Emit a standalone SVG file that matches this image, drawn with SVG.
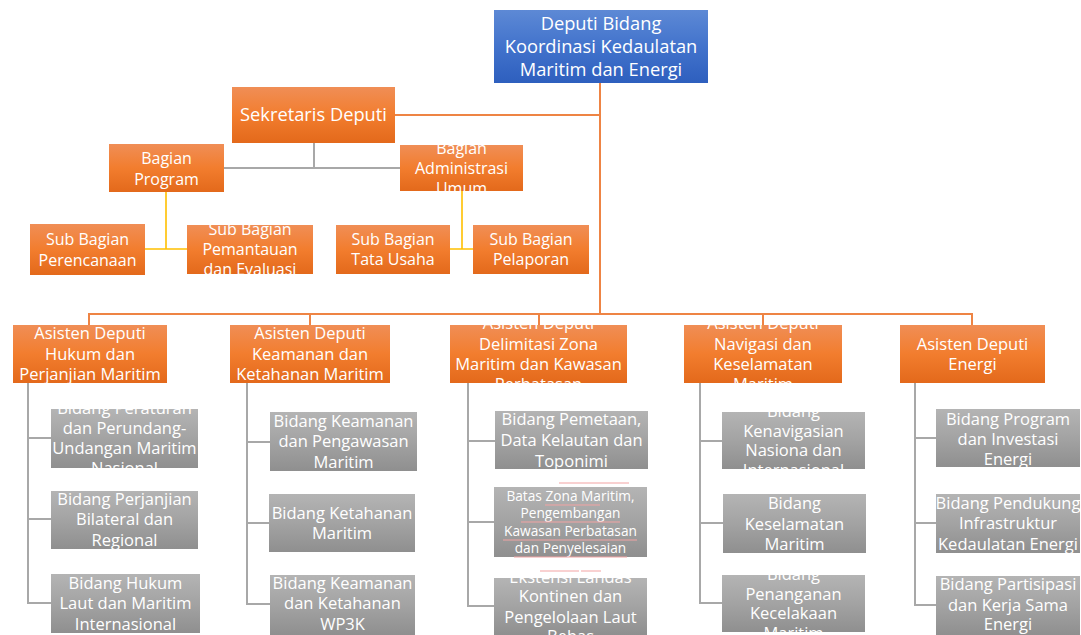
<svg xmlns="http://www.w3.org/2000/svg" width="1081" height="635" viewBox="0 0 1081 635">
<defs>
<linearGradient id="gO" x1="0" y1="0" x2="0" y2="1"><stop offset="0" stop-color="#F08E56"/><stop offset="0.5" stop-color="#F27D2E"/><stop offset="1" stop-color="#E3691B"/></linearGradient>
<linearGradient id="gB" x1="0" y1="0" x2="0" y2="1"><stop offset="0" stop-color="#5D89D5"/><stop offset="0.5" stop-color="#4273CC"/><stop offset="1" stop-color="#2E5FBE"/></linearGradient>
<linearGradient id="gG" x1="0" y1="0" x2="0" y2="1"><stop offset="0" stop-color="#B4B4B4"/><stop offset="0.5" stop-color="#A3A3A3"/><stop offset="1" stop-color="#8F8F8F"/></linearGradient>
<clipPath id="cAdm"><rect x="400" y="145" width="123" height="46"/></clipPath>
<clipPath id="cPem"><rect x="187" y="225" width="126" height="49"/></clipPath>
<clipPath id="cA3"><rect x="450" y="325" width="177" height="58"/></clipPath>
<clipPath id="cA4"><rect x="684" y="325" width="158" height="58"/></clipPath>
<clipPath id="cB11"><rect x="51" y="409" width="147" height="59"/></clipPath>
<clipPath id="cB33"><rect x="494" y="578" width="153" height="57"/></clipPath>
<clipPath id="cB41"><rect x="722" y="412" width="143" height="57"/></clipPath>
<clipPath id="cB43"><rect x="722" y="575" width="143" height="57"/></clipPath>
</defs>
<style>
.o{fill:url(#gO)}
.b{fill:url(#gB)}
.g{fill:url(#gG)}
text{font-family:"Open Sans","Liberation Sans",sans-serif;fill:#fff;text-anchor:middle}
.t18{font-size:18.3px}
.t16{font-size:16px}
.t165{font-size:16.5px}
.t14{font-size:13.7px}
.lo{stroke:#EE8444;stroke-width:2;fill:none}
.lg{stroke:#A8A8A8;stroke-width:2;fill:none}
.ly{stroke:#FFC000;stroke-width:1.6;fill:none}
.sp{stroke:#F2A3A3;stroke-width:1;fill:none}
</style>
<g id="connectors">
<path class="lo" d="M600 83V314M395 115H600M89 314H972M89 313V325M310 313V325M539 313V325M763 313V325M972 313V325"/>
<path class="lg" d="M314 143V168M224 168H400"/>
<path class="ly" d="M166 192V249M145 249H187M462 191V249M450 249H473"/>
<path class="lg" d="M28 383V603H51M28 438H51M28 519H51"/>
<path class="lg" d="M247 383V604H270M247 442H270M247 523H269"/>
<path class="lg" d="M468 383V606H494M468 441H495M468 522H494"/>
<path class="lg" d="M700 383V603H722M700 441H722M700 523H723"/>
<path class="lg" d="M915 383V605H936M915 438H936M915 523H936"/>
</g>
<g id="deputi"><rect class="b" x="494" y="10" width="214" height="73"/><text class="t18"><tspan x="601" y="30.4">Deputi Bidang</tspan><tspan x="601" y="53.4">Koordinasi Kedaulatan</tspan><tspan x="601" y="76.4">Maritim dan Energi</tspan></text></g>
<g id="sekretaris"><rect class="o" x="232" y="87" width="163" height="56"/><text class="t18" x="313.5" y="121.4">Sekretaris Deputi</text></g>
<g id="bagian-program"><rect class="o" x="109" y="144" width="115" height="48"/><text class="t16"><tspan x="166.5" y="163.6">Bagian</tspan><tspan x="166.5" y="184.6">Program</tspan></text></g>
<g id="bagian-adm"><rect class="o" x="400" y="145" width="123" height="46"/><text class="t16" clip-path="url(#cAdm)"><tspan x="461.5" y="153.6">Bagian</tspan><tspan x="461.5" y="173.6">Administrasi</tspan><tspan x="461.5" y="193.6">Umum</tspan></text></g>
<g id="sub-perencanaan"><rect class="o" x="30" y="224" width="115" height="51"/><text class="t16"><tspan x="87.5" y="244.6">Sub Bagian</tspan><tspan x="87.5" y="265.6">Perencanaan</tspan></text></g>
<g id="sub-pemantauan"><rect class="o" x="187" y="225" width="126" height="49"/><text class="t16" clip-path="url(#cPem)"><tspan x="250" y="234.6">Sub Bagian</tspan><tspan x="250" y="254.6">Pemantauan</tspan><tspan x="250" y="274.6">dan Evaluasi</tspan></text></g>
<g id="sub-tata-usaha"><rect class="o" x="336" y="225" width="114" height="49"/><text class="t16"><tspan x="393" y="244.6">Sub Bagian</tspan><tspan x="393" y="264.6">Tata Usaha</tspan></text></g>
<g id="sub-pelaporan"><rect class="o" x="473" y="225" width="116" height="49"/><text class="t16"><tspan x="531" y="244.6">Sub Bagian</tspan><tspan x="531" y="264.6">Pelaporan</tspan></text></g>
<g id="asdep-hukum"><rect class="o" x="13" y="325" width="154" height="58"/><text class="t165"><tspan x="90" y="338.8">Asisten Deputi</tspan><tspan x="90" y="359.8">Hukum dan</tspan><tspan x="90" y="379.8">Perjanjian Maritim</tspan></text></g>
<g id="asdep-keamanan"><rect class="o" x="230" y="325" width="160" height="58"/><text class="t165"><tspan x="310" y="338.8">Asisten Deputi</tspan><tspan x="310" y="359.8">Keamanan dan</tspan><tspan x="310" y="379.8">Ketahanan Maritim</tspan></text></g>
<g id="asdep-delimitasi"><rect class="o" x="450" y="325" width="177" height="58"/><text class="t165" clip-path="url(#cA3)"><tspan x="538.5" y="328.8">Asisten Deputi</tspan><tspan x="538.5" y="349.8">Delimitasi Zona</tspan><tspan x="538.5" y="369.8">Maritim dan Kawasan</tspan><tspan x="538.5" y="389.8">Perbatasan</tspan></text></g>
<g id="asdep-navigasi"><rect class="o" x="684" y="325" width="158" height="58"/><text class="t165" clip-path="url(#cA4)"><tspan x="763" y="328.8">Asisten Deputi</tspan><tspan x="763" y="349.8">Navigasi dan</tspan><tspan x="763" y="369.8">Keselamatan</tspan><tspan x="763" y="389.8">Maritim</tspan></text></g>
<g id="asdep-energi"><rect class="o" x="900" y="325" width="145" height="58"/><text class="t165"><tspan x="972.5" y="349.8">Asisten Deputi</tspan><tspan x="972.5" y="369.8">Energi</tspan></text></g>
<g id="bidang-peraturan"><rect class="g" x="51" y="409" width="147" height="59"/><text class="t165" clip-path="url(#cB11)"><tspan x="124.5" y="413.8">Bidang Peraturan</tspan><tspan x="124.5" y="433.8">dan Perundang-</tspan><tspan x="124.5" y="453.8">Undangan Maritim</tspan><tspan x="124.5" y="473.8">Nasional</tspan></text></g>
<g id="bidang-perjanjian"><rect class="g" x="51" y="491" width="147" height="58"/><text class="t165"><tspan x="124.5" y="504.8">Bidang Perjanjian</tspan><tspan x="124.5" y="524.8">Bilateral dan</tspan><tspan x="124.5" y="545.8">Regional</tspan></text></g>
<g id="bidang-hukum-laut"><rect class="g" x="51" y="574" width="149" height="59"/><text class="t165"><tspan x="125.5" y="588.8">Bidang Hukum</tspan><tspan x="125.5" y="608.8">Laut dan Maritim</tspan><tspan x="125.5" y="629.8">Internasional</tspan></text></g>
<g id="bidang-keamanan-pengawasan"><rect class="g" x="270" y="412" width="147" height="59"/><text class="t165"><tspan x="343.5" y="426.8">Bidang Keamanan</tspan><tspan x="343.5" y="446.8">dan Pengawasan</tspan><tspan x="343.5" y="467.8">Maritim</tspan></text></g>
<g id="bidang-ketahanan"><rect class="g" x="269" y="494" width="146" height="58"/><text class="t165"><tspan x="342" y="518.8">Bidang Ketahanan</tspan><tspan x="342" y="538.8">Maritim</tspan></text></g>
<g id="bidang-wp3k"><rect class="g" x="270" y="575" width="145" height="60"/><text class="t165"><tspan x="342.5" y="588.8">Bidang Keamanan</tspan><tspan x="342.5" y="608.8">dan Ketahanan</tspan><tspan x="342.5" y="629.8">WP3K</tspan></text></g>
<g id="bidang-pemetaan"><rect class="g" x="495" y="411" width="153" height="58"/><text class="t165"><tspan x="571.5" y="424.8">Bidang Pemetaan,</tspan><tspan x="571.5" y="445.8">Data Kelautan dan</tspan><tspan x="571.5" y="466.8">Toponimi</tspan></text></g>
<g id="bidang-batas-zona"><rect class="g" x="494" y="487" width="153" height="70"/><text class="t14"><tspan x="570.5" y="500.8">Batas Zona Maritim,</tspan><tspan x="570.5" y="517.8">Pengembangan</tspan><tspan x="570.5" y="535.8">Kawasan Perbatasan</tspan><tspan x="570.5" y="552.8">dan Penyelesaian</tspan></text>
<path class="sp" d="M559 483H629M545 505H600M521 522H620M503 540H637M514 557H627"/></g>
<g id="bidang-ekstensi"><rect class="g" x="494" y="578" width="153" height="57"/><text class="t165" clip-path="url(#cB33)"><tspan x="570.5" y="582.8">Ekstensi Landas</tspan><tspan x="570.5" y="601.8">Kontinen dan</tspan><tspan x="570.5" y="622.8">Pengelolaan Laut</tspan><tspan x="570.5" y="641.8">Bebas</tspan></text>
<path class="sp" d="M540 571H579M581 571H601"/></g>
<g id="bidang-kenavigasian"><rect class="g" x="722" y="412" width="143" height="57"/><text class="t165" clip-path="url(#cB41)"><tspan x="793.5" y="416.8">Bidang</tspan><tspan x="793.5" y="436.8">Kenavigasian</tspan><tspan x="793.5" y="455.8">Nasiona dan</tspan><tspan x="793.5" y="475.8">Internasional</tspan></text></g>
<g id="bidang-keselamatan"><rect class="g" x="723" y="494" width="143" height="59"/><text class="t165"><tspan x="794.5" y="508.8">Bidang</tspan><tspan x="794.5" y="529.8">Keselamatan</tspan><tspan x="794.5" y="549.8">Maritim</tspan></text></g>
<g id="bidang-penanganan"><rect class="g" x="722" y="575" width="143" height="57"/><text class="t165" clip-path="url(#cB43)"><tspan x="793.5" y="579.8">Bidang</tspan><tspan x="793.5" y="599.8">Penanganan</tspan><tspan x="793.5" y="618.8">Kecelakaan</tspan><tspan x="793.5" y="638.8">Maritim</tspan></text></g>
<g id="bidang-program-investasi"><rect class="g" x="936" y="409" width="144" height="58"/><text class="t165"><tspan x="1008" y="424.8">Bidang Program</tspan><tspan x="1008" y="444.8">dan Investasi</tspan><tspan x="1008" y="464.8">Energi</tspan></text></g>
<g id="bidang-pendukung"><rect class="g" x="936" y="494" width="144" height="59"/><text class="t165"><tspan x="1008" y="508.8">Bidang Pendukung</tspan><tspan x="1008" y="528.8">Infrastruktur</tspan><tspan x="1008" y="549.8">Kedaulatan Energi</tspan></text></g>
<g id="bidang-partisipasi"><rect class="g" x="936" y="576" width="144" height="59"/><text class="t165"><tspan x="1008" y="589.8">Bidang Partisipasi</tspan><tspan x="1008" y="610.8">dan Kerja Sama</tspan><tspan x="1008" y="629.8">Energi</tspan></text></g>
</svg>
